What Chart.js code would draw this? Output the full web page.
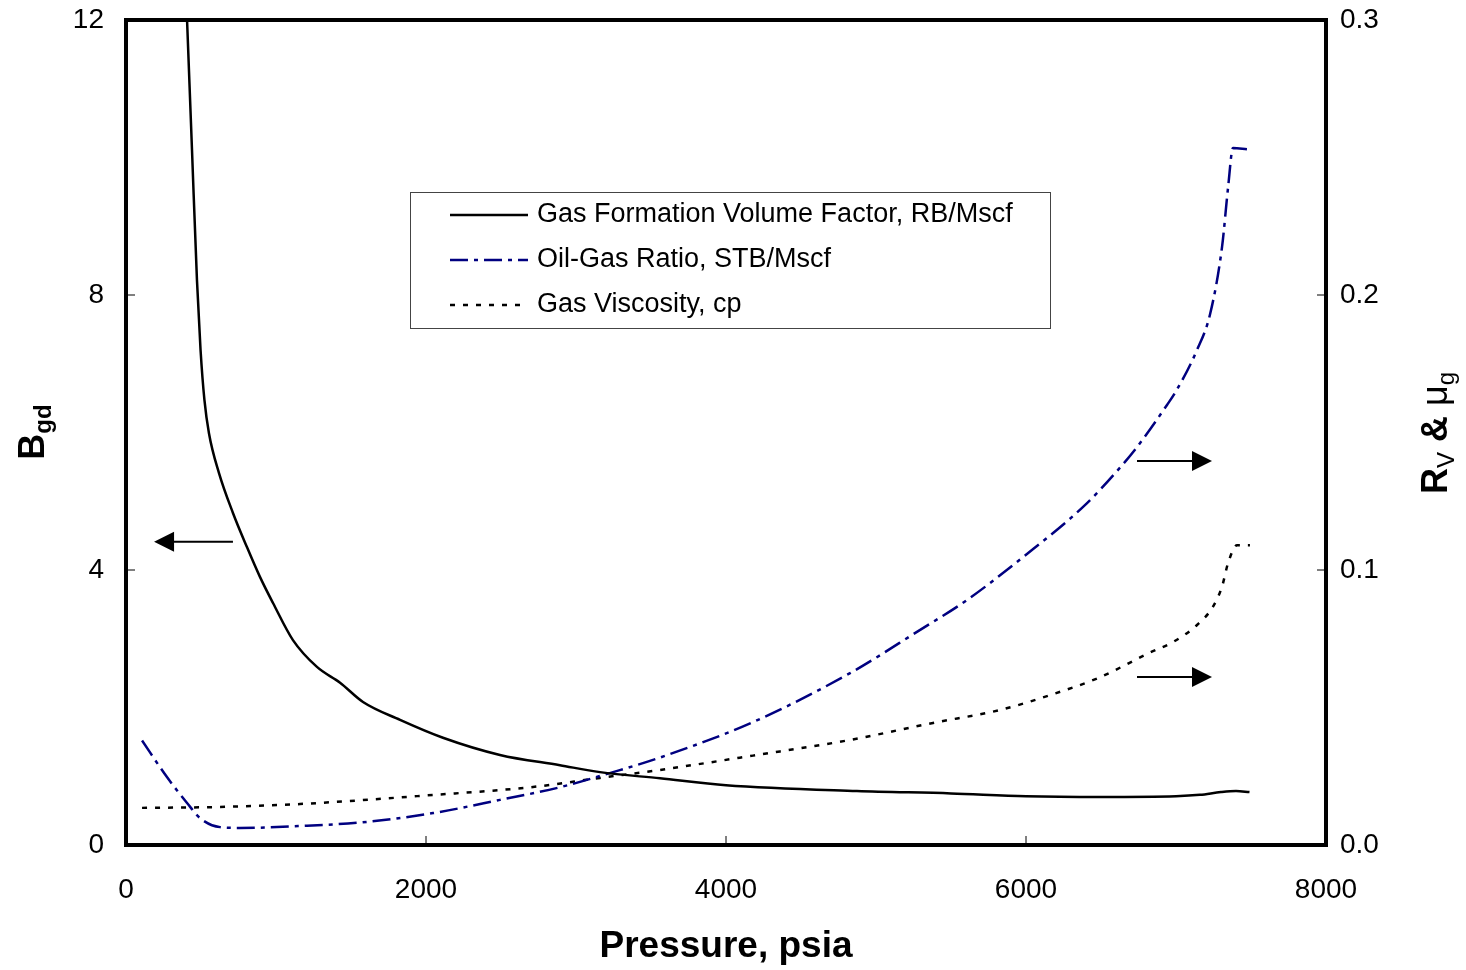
<!DOCTYPE html>
<html lang="en">
<head>
  <meta charset="UTF-8">
  <title>Gas properties vs pressure</title>
  <script src="https://cdn.jsdelivr.net/npm/chart.js"></script>
  <style>
    body {
      margin: 0;
      background: white;
    }
    #chart {
      display: block;
    }
  </style>
</head>
<body>

<canvas id="chart" width="1466" height="970"></canvas>

<script>
// Gas formation volume factor (left axis)
const bgdPressure = [407, 440, 473, 497, 523, 553, 620, 713, 807, 893, 980, 1113, 1273, 1427, 1580, 1827, 2113, 2493, 2893, 3160, 3560, 4000, 4873, 5500, 6000, 6500, 7000, 7160, 7300, 7400, 7490];
const bgdValues = [12, 10.11, 8.22, 7.2, 6.47, 5.99, 5.41, 4.83, 4.33, 3.90, 3.52, 2.98, 2.59, 2.36, 2.08, 1.82, 1.56, 1.31, 1.16, 1.06, 0.97, 0.87, 0.785, 0.75, 0.71, 0.70, 0.71, 0.73, 0.77, 0.785, 0.77];

// Oil-gas ratio (right axis)
const rvPressure = [107, 273, 407, 493, 627, 760, 1160, 1607, 2047, 2493, 2893, 3247, 3560, 4180, 4827, 5273, 5607, 5980, 6393, 6607, 6740, 6940, 7000, 7140, 7227, 7307, 7347, 7380, 7473];
const rvValues = [0.038, 0.0247, 0.0153, 0.0098, 0.0065, 0.0062, 0.0069, 0.0084, 0.0116, 0.0164, 0.021, 0.0265, 0.0318, 0.0447, 0.0625, 0.0775, 0.0891, 0.1047, 0.1236, 0.136, 0.1447, 0.160, 0.165, 0.180, 0.193, 0.2175, 0.239, 0.2535, 0.253];

// Gas viscosity (right axis)
const muPressure = [107, 600, 1160, 2047, 2713, 3160, 3560, 4180, 4827, 5380, 5827, 6160, 6480, 6827, 6980, 7140, 7247, 7307, 7347, 7407, 7493];
const muValues = [0.0135, 0.0138, 0.0149, 0.0182, 0.0211, 0.0244, 0.0273, 0.0325, 0.0382, 0.0444, 0.0491, 0.0545, 0.0607, 0.070, 0.0738, 0.080, 0.0867, 0.094, 0.1025, 0.109, 0.109];

const seriesNames = ['Gas Formation Volume Factor, RB/Mscf', 'Oil-Gas Ratio, STB/Mscf', 'Gas Viscosity, cp'];
const xTicks = [0, 2000, 4000, 6000, 8000];
const leftTicks = [0, 4, 8, 12];
const rightTicks = [0, 0.1, 0.2, 0.3];

// arrows pointing at the axis each curve belongs to: [from x, to x, y, axis]
const arrows = [
  [713, 187, 4.41, 'y'],
  [6740, 7240, 0.1396, 'y1'],
  [6740, 7240, 0.0611, 'y1']
];

const FONT = 'Arial, "Liberation Sans", sans-serif';
const navy = '#000080';

function pts(xs, ys) {
  return xs.map((x, i) => ({ x: x, y: ys[i] }));
}

const styles = [
  { color: 'black', dash: [] },
  { color: navy, dash: [18, 6, 4, 6] },
  { color: 'black', dash: [5, 8] }
];

function noPad(s) {
  s.paddingTop = 0; s.paddingBottom = 0; s.paddingLeft = 0; s.paddingRight = 0;
}

// frame, inward ticks, legend, arrows and axis titles
const extras = {
  id: 'extras',
  afterDraw(chart) {
    const ctx = chart.ctx;
    const a = chart.chartArea;
    const xs = chart.scales.x, yl = chart.scales.y, yr = chart.scales.y1;
    ctx.save();

    // tick marks (inside)
    ctx.strokeStyle = 'black';
    ctx.lineWidth = 1;
    ctx.setLineDash([]);
    ctx.beginPath();
    xTicks.forEach(v => { const px = xs.getPixelForValue(v); ctx.moveTo(px, a.bottom); ctx.lineTo(px, a.bottom - 9); });
    leftTicks.forEach(v => { const py = yl.getPixelForValue(v); ctx.moveTo(a.left, py); ctx.lineTo(a.left + 9, py); });
    rightTicks.forEach(v => { const py = yr.getPixelForValue(v); ctx.moveTo(a.right, py); ctx.lineTo(a.right - 9, py); });
    ctx.stroke();

    // frame
    ctx.lineWidth = 4;
    ctx.strokeRect(a.left, a.top, a.right - a.left, a.bottom - a.top);

    // arrows
    ctx.lineWidth = 2;
    arrows.forEach(ar => {
      const ys = chart.scales[ar[3]];
      const x0 = xs.getPixelForValue(ar[0]);
      const x1 = xs.getPixelForValue(ar[1]);
      const py = ys.getPixelForValue(ar[2]);
      const dir = x1 > x0 ? 1 : -1;
      ctx.beginPath();
      ctx.moveTo(x0, py);
      ctx.lineTo(x1 - dir * 18, py);
      ctx.stroke();
      ctx.beginPath();
      ctx.moveTo(x1, py);
      ctx.lineTo(x1 - dir * 20, py - 10);
      ctx.lineTo(x1 - dir * 20, py + 10);
      ctx.closePath();
      ctx.fillStyle = 'black';
      ctx.fill();
    });

    // legend
    ctx.lineWidth = 1;
    ctx.strokeStyle = '#444';
    ctx.strokeRect(410.5, 192.5, 640, 136);
    ctx.font = '27px ' + FONT;
    ctx.textBaseline = 'middle';
    ctx.textAlign = 'left';
    ctx.fillStyle = 'black';
    seriesNames.forEach((name, i) => {
      const y = 215 + i * 45;
      ctx.beginPath();
      ctx.strokeStyle = styles[i].color;
      ctx.lineWidth = 2.5;
      ctx.setLineDash(styles[i].dash);
      ctx.moveTo(450, y);
      ctx.lineTo(528, y);
      ctx.stroke();
      ctx.setLineDash([]);
      ctx.fillText(name, 537, y);
    });

    // x title
    ctx.font = 'bold 37px ' + FONT;
    ctx.textAlign = 'center';
    ctx.textBaseline = 'alphabetic';
    ctx.fillText('Pressure, psia', (a.left + a.right) / 2, 957);

    // rotated titles built from pieces: [text, font, baseline shift]
    function rotated(parts, cx, cy) {
      ctx.save();
      ctx.translate(cx, cy);
      ctx.rotate(-Math.PI / 2);
      let w = 0;
      parts.forEach(p => { ctx.font = p[1]; w += ctx.measureText(p[0]).width; });
      let x = -w / 2;
      ctx.textAlign = 'left';
      parts.forEach(p => {
        ctx.font = p[1];
        ctx.fillText(p[0], x, 12 + p[2]);
        x += ctx.measureText(p[0]).width;
      });
      ctx.restore();
    }
    rotated([
      ['B', 'bold 36px ' + FONT, 0],
      ['gd', 'bold 24px ' + FONT, 7]
    ], 32, 432);
    rotated([
      ['R', 'bold 36px ' + FONT, 0],
      ['V', '24px ' + FONT, 7],
      [' & ', 'bold 36px ' + FONT, 0],
      ['\u03bc', '36px ' + FONT, 0],
      ['g', '24px ' + FONT, 7]
    ], 1435, 433);

    ctx.restore();
  }
};

new Chart(document.getElementById('chart'), {
  type: 'line',
  data: {
    datasets: [
      { label: seriesNames[0], data: pts(bgdPressure, bgdValues), yAxisID: 'y',
        borderColor: styles[0].color, borderDash: styles[0].dash, borderWidth: 2.5 },
      { label: seriesNames[1], data: pts(rvPressure, rvValues), yAxisID: 'y1',
        borderColor: styles[1].color, borderDash: styles[1].dash, borderWidth: 2.5 },
      { label: seriesNames[2], data: pts(muPressure, muValues), yAxisID: 'y1',
        borderColor: styles[2].color, borderDash: styles[2].dash, borderWidth: 2.5 }
    ]
  },
  options: {
    responsive: false,
    animation: false,
    events: [],
    elements: {
      point: { radius: 0 },
      line: { cubicInterpolationMode: 'monotone', fill: false }
    },
    layout: { padding: { top: 20, left: 0, right: 0, bottom: 0 } },
    plugins: {
      legend: { display: false },
      tooltip: { enabled: false }
    },
    scales: {
      x: {
        type: 'linear',
        min: 0, max: 8000,
        afterBuildTicks: s => { s.ticks = xTicks.map(v => ({ value: v })); },
        afterFit: s => { s.height = 125; noPad(s); },
        grid: { display: false },
        border: { display: false },
        ticks: { color: 'black', font: { family: FONT, size: 28 }, padding: 20, maxRotation: 0,
          callback: v => String(v) }
      },
      y: {
        position: 'left',
        min: 0, max: 12,
        afterBuildTicks: s => { s.ticks = leftTicks.map(v => ({ value: v })); },
        afterFit: s => { s.width = 126; noPad(s); },
        grid: { display: false },
        border: { display: false },
        ticks: { color: 'black', font: { family: FONT, size: 28 }, padding: 14,
          callback: v => String(v) }
      },
      y1: {
        position: 'right',
        min: 0, max: 0.3,
        afterBuildTicks: s => { s.ticks = rightTicks.map(v => ({ value: v })); },
        afterFit: s => { s.width = 140; noPad(s); },
        grid: { display: false },
        border: { display: false },
        ticks: { color: 'black', font: { family: FONT, size: 28 }, padding: 6,
          callback: v => v.toFixed(1) }
      }
    }
  },
  plugins: [extras]
});
</script>
</body>
</html>
